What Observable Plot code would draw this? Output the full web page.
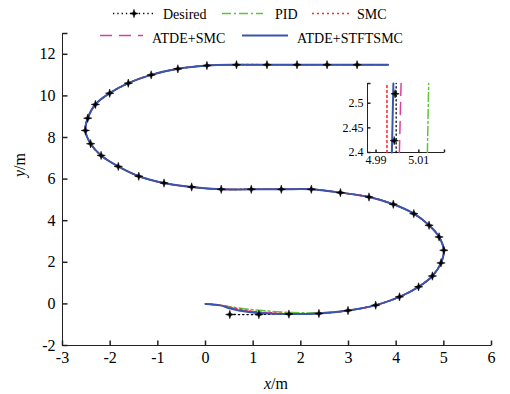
<!DOCTYPE html>
<html><head><meta charset="utf-8">
<script src="https://cdn.jsdelivr.net/npm/d3@7"></script>
<script src="https://cdn.jsdelivr.net/npm/@observablehq/plot@0.6"></script>
<style>
html,body{margin:0;padding:0;background:#fff;}
#chart{position:relative;width:510px;height:394px;}
#inset{position:absolute;left:327px;top:78px;width:122px;height:96px;}
</style>
</head><body><div id="chart"><div id="inset"></div></div>
<script>
// ---------- data ----------
const seriesNames = ["Desired", "PID", "SMC", "ATDE+SMC", "ATDE+STFTSMC"];
const xTicks = [-3, -2, -1, 0, 1, 2, 3, 4, 5, 6];
const yTicks = [-2, 0, 2, 4, 6, 8, 10, 12];
const xDomain = [-3, 6];
const yDomain = [-2, 13];

// desired trajectory (marker points, last point is path end without marker)
const desiredX = [0.51, 1.12, 1.75, 2.38, 2.99, 3.57, 4.07, 4.47, 4.76, 4.94, 5.00, 4.90, 4.69, 4.37, 3.94, 3.43, 2.83, 2.22, 1.59, 0.96, 0.33, -0.29, -0.87, -1.40, -1.83, -2.19, -2.41, -2.52, -2.47, -2.31, -2.01, -1.62, -1.14, -0.58, 0.03, 0.65, 1.29, 1.92, 2.55, 3.18, 3.83];
const desiredY = [-0.51, -0.51, -0.49, -0.46, -0.32, -0.06, 0.34, 0.82, 1.34, 1.97, 2.58, 3.22, 3.78, 4.34, 4.79, 5.14, 5.35, 5.51, 5.51, 5.51, 5.51, 5.62, 5.81, 6.14, 6.61, 7.14, 7.70, 8.34, 8.93, 9.59, 10.13, 10.61, 11.01, 11.30, 11.46, 11.5, 11.5, 11.5, 11.5, 11.5, 11.5];

// controller start segments (before they merge onto the desired path)
const pidStartX = [0, 0.31, 0.52, 0.94, 1.36, 1.78, 2.27];
const pidStartY = [0, -0.06, -0.14, -0.27, -0.35, -0.41, -0.43];
const smcStartX = [0, 0.31, 0.55, 0.90, 1.30, 1.80];
const smcStartY = [0, -0.06, -0.18, -0.33, -0.42, -0.47];
const atdeSmcStartX = [0, 0.31, 0.53, 0.88, 1.30, 1.78];
const atdeSmcStartY = [0, -0.065, -0.20, -0.35, -0.44, -0.48];
const stftStartX = [0, 0.31, 0.52, 0.87, 1.29, 1.78];
const stftStartY = [0, -0.07, -0.22, -0.38, -0.46, -0.49];
const pidMerge = 4, otherMerge = 3; // index in desired path where the tracked path coincides

// inset (zoom near x = 5, y = 2.45)
const insetXDomain = [4.986, 5.022];
const insetYDomain = [2.4, 2.54];
const insetXTicks = [4.99, 5.01];
const insetYTicks = [2.4, 2.45, 2.5];
const insetDesiredX = [4.9994, 4.9994];
const insetDesiredY = [2.4, 2.54];
const insetMarkX = [4.9989, 4.9985];
const insetMarkY = [2.519, 2.424];
const insetPidX = [5.0140, 5.0146];
const insetPidY = [2.4, 2.54];
const insetSmcX = [4.9951, 4.9951];
const insetSmcY = [2.4, 2.536];
const insetAtdeSmcX = [5.0009, 5.0017];
const insetAtdeSmcY = [2.4, 2.54];
const insetStftX = [4.9974, 4.9981];
const insetStftY = [2.4, 2.54];

// ---------- helpers ----------
const pts = (xs, ys) => xs.map((x, i) => ({x, y: ys[i]}));
const desired = pts(desiredX, desiredY);
const markers = desired.slice(0, -1);
const pid = pts(pidStartX, pidStartY).concat(desired.slice(pidMerge));
const smc = pts(smcStartX, smcStartY).concat(desired.slice(otherMerge));
const atdeSmc = pts(atdeSmcStartX, atdeSmcStartY).concat(desired.slice(otherMerge));
const stft = pts(stftStartX, stftStartY).concat(desired.slice(otherMerge));

const colors = {Desired: "#000000", PID: "#62c23b", SMC: "#ff2b2b", "ATDE+SMC": "#d8409f", "ATDE+STFTSMC": "#3a56ac"};
const dash = {Desired: "1.3,3", PID: "9,3,2,3", SMC: "2,3", "ATDE+SMC": "12,7", "ATDE+STFTSMC": null};
const widths = {Desired: 1.3, PID: 1.5, SMC: 1.6, "ATDE+SMC": 1.5, "ATDE+STFTSMC": 2};

const star4 = {draw(ctx, size) {
  const r = Math.sqrt(size / Math.PI), w = r * 0.24;
  ctx.moveTo(0, -r); ctx.lineTo(w, -w); ctx.lineTo(r, 0); ctx.lineTo(w, w);
  ctx.lineTo(0, r); ctx.lineTo(-w, w); ctx.lineTo(-r, 0); ctx.lineTo(-w, -w); ctx.closePath();
}};
const markerR = 4.2;
const tickUp = (len) => ({draw(ctx) { ctx.moveTo(0, 0); ctx.lineTo(0, -len); }});
const tickRight = (len) => ({draw(ctx) { ctx.moveTo(0, 0); ctx.lineTo(len, 0); }});

const lineMark = (data, name, curve = "catmull-rom") => Plot.line(data, {
  x: "x", y: "y", stroke: colors[name], strokeWidth: widths[name],
  strokeDasharray: dash[name], curve
});

const serif = "'Liberation Serif', 'Times New Roman', serif";

// ---------- main plot ----------
const main = Plot.plot({
  width: 510, height: 394,
  marginLeft: 62, marginRight: 19, marginTop: 33, marginBottom: 49,
  style: {fontFamily: serif, fontSize: "16px", background: "white", color: "black", overflow: "visible"},
  x: {domain: xDomain},
  y: {domain: yDomain},
  marks: [
    Plot.ruleX([xDomain[0]], {stroke: "#222", strokeWidth: 1}),
    Plot.ruleY([yDomain[0]], {stroke: "#222", strokeWidth: 1}),
    Plot.dot(xTicks, {x: d => d, y: () => yDomain[0], symbol: tickUp(5), stroke: "#222", fill: "none"}),
    Plot.dot(yTicks.concat([yDomain[1]]), {x: () => xDomain[0], y: d => d, symbol: tickRight(5), stroke: "#222", fill: "none"}),
    Plot.axisX({ticks: xTicks, tickSize: 0, tickPadding: 6, tickFormat: d => String(d), fontSize: 16, label: null}),
    Plot.axisY({ticks: yTicks, tickSize: 0, tickPadding: 7, tickFormat: d => String(d), fontSize: 16, label: null}),
    lineMark(desired, "Desired"),
    lineMark(pid, "PID"),
    lineMark(smc, "SMC"),
    lineMark(atdeSmc, "ATDE+SMC"),
    lineMark(stft, "ATDE+STFTSMC"),
    Plot.dot(markers, {x: "x", y: "y", symbol: star4, r: markerR, fill: "black", stroke: "black", strokeWidth: 0.5})
  ]
});
document.getElementById("chart").insertBefore(main, document.getElementById("inset"));

// ---------- inset ----------
const inset = Plot.plot({
  width: 122, height: 96,
  marginLeft: 40, marginRight: 5, marginTop: 5, marginBottom: 22,
  style: {fontFamily: serif, fontSize: "12px", background: "transparent", color: "black", overflow: "visible"},
  x: {domain: insetXDomain},
  y: {domain: insetYDomain},
  marks: [
    Plot.ruleX([insetXDomain[0]], {stroke: "#222"}),
    Plot.ruleY([insetYDomain[0]], {stroke: "#222"}),
    Plot.dot(insetXTicks.concat([insetXDomain[1]]), {x: d => d, y: () => insetYDomain[0], symbol: tickUp(3), stroke: "#222", fill: "none"}),
    Plot.dot(insetYTicks.concat([insetYDomain[1]]), {x: () => insetXDomain[0], y: d => d, symbol: tickRight(3), stroke: "#222", fill: "none"}),
    Plot.axisX({ticks: insetXTicks, tickSize: 0, tickPadding: 3, tickFormat: d => String(d), fontSize: 12, label: null}),
    Plot.axisY({ticks: insetYTicks, tickSize: 0, tickPadding: 4, tickFormat: d => String(d), fontSize: 12, label: null}),
    lineMark(pts(insetDesiredX, insetDesiredY), "Desired", "linear"),
    lineMark(pts(insetPidX, insetPidY), "PID", "linear"),
    lineMark(pts(insetSmcX, insetSmcY), "SMC", "linear"),
    lineMark(pts(insetAtdeSmcX, insetAtdeSmcY), "ATDE+SMC", "linear"),
    lineMark(pts(insetStftX, insetStftY), "ATDE+STFTSMC", "linear"),
    Plot.dot(pts(insetMarkX, insetMarkY), {x: "x", y: "y", symbol: star4, r: markerR, fill: "black", stroke: "black", strokeWidth: 0.5})
  ]
});
document.getElementById("inset").appendChild(inset);

// ---------- axis titles & legend ----------
const svg = d3.select(main);
const xl = svg.append("text").attr("x", 276).attr("y", 389).attr("text-anchor", "middle")
  .attr("font-family", serif).attr("font-size", 16).attr("fill", "black");
xl.append("tspan").attr("font-style", "italic").text("x");
xl.append("tspan").text("/m");
const yl = svg.append("text").attr("transform", "translate(25,165) rotate(-90)").attr("text-anchor", "middle")
  .attr("font-family", serif).attr("font-size", 16).attr("fill", "black");
yl.append("tspan").attr("font-style", "italic").text("y");
yl.append("tspan").text("/m");

const lg = svg.append("g").attr("font-family", serif).attr("font-size", 14).attr("fill", "black").attr("text-anchor", "start");
const legendItems = [
  {name: seriesNames[0], x1: 113, x2: 155, ly: 13.5, tx: 163, ty: 18.5, marker: true},
  {name: seriesNames[1], x1: 222, x2: 263, ly: 13.5, tx: 275, ty: 18.5},
  {name: seriesNames[2], x1: 312, x2: 352, ly: 13.5, tx: 357, ty: 18.5},
  {name: seriesNames[3], x1: 100, x2: 143, ly: 35.5, tx: 152, ty: 42.5},
  {name: seriesNames[4], x1: 242, x2: 288, ly: 35.5, tx: 297, ty: 42.5}
];
for (const it of legendItems) {
  lg.append("line").attr("x1", it.x1).attr("x2", it.x2).attr("y1", it.ly).attr("y2", it.ly)
    .attr("stroke", colors[it.name]).attr("stroke-width", widths[it.name])
    .attr("stroke-dasharray", dash[it.name]);
  if (it.marker) {
    lg.append("path").attr("transform", `translate(${(it.x1 + it.x2) / 2},${it.ly})`)
      .attr("d", d3.symbol(star4, Math.PI * markerR * markerR)()).attr("fill", "black").attr("stroke", "black").attr("stroke-width", 0.5);
  }
  lg.append("text").attr("x", it.tx).attr("y", it.ty).attr("text-anchor", "start").text(it.name);
}
</script>
</body></html>
